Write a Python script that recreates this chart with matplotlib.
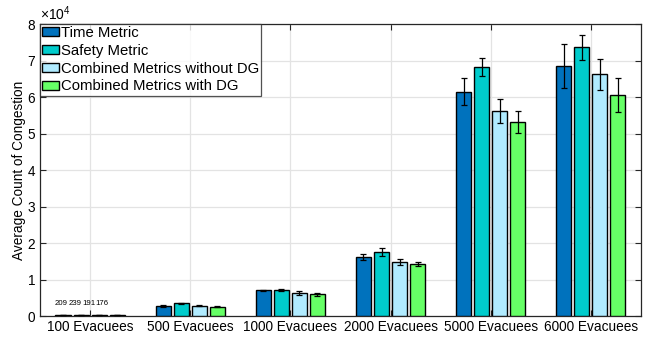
import numpy as np
import matplotlib
matplotlib.use("Agg")
import matplotlib.pyplot as plt
from matplotlib.ticker import ScalarFormatter

plt.rcParams["font.family"] = ["Liberation Sans", "DejaVu Sans"]
plt.rcParams["mathtext.fontset"] = "custom"
plt.rcParams["mathtext.rm"] = "Liberation Sans"
plt.rcParams["mathtext.it"] = "Liberation Sans"

groups = ["100 Evacuees", "500 Evacuees", "1000 Evacuees",
          "2000 Evacuees", "5000 Evacuees", "6000 Evacuees"]
series = ["Time Metric", "Safety Metric",
          "Combined Metrics without DG", "Combined Metrics with DG"]

time_metric = [209, 2800, 7000, 16100, 61500, 68600]
safety_metric = [239, 3500, 7100, 17500, 68200, 73600]
combined_no_dg = [191, 2800, 6300, 14800, 56200, 66200]
combined_dg = [176, 2500, 6000, 14200, 53200, 60600]

time_err = [15, 200, 250, 800, 3800, 6000]
safety_err = [15, 200, 200, 1000, 2500, 3500]
combined_no_dg_err = [15, 150, 500, 700, 3200, 4200]
combined_dg_err = [15, 150, 400, 500, 3100, 4700]

values = [time_metric, safety_metric, combined_no_dg, combined_dg]
errors = [time_err, safety_err, combined_no_dg_err, combined_dg_err]
colors = ["#0072BD", "#00CCCC", "#B0EBFF", "#66FF66"]

fig = plt.figure(figsize=(6.52, 3.39), dpi=100)
ax = fig.add_axes([0.0613, 0.0678, 0.9217, 0.8614])

x = np.arange(1, len(groups) + 1)
offsets = [-0.27, -0.09, 0.09, 0.27]
width = 0.15
handles = []
for vals, errs, col, off, name in zip(values, errors, colors, offsets, series):
    h = ax.bar(x + off, vals, width, color=col, edgecolor="black",
               linewidth=1.0, label=name, zorder=3)
    ax.errorbar(x + off, vals, yerr=errs, fmt="none", ecolor="black",
                elinewidth=0.9, capsize=2, capthick=0.9, zorder=4)
    handles.append(h)

# value labels above the smallest group
label_x = [0.71, 0.85, 0.985, 1.12]
for lx, vals in zip(label_x, values):
    ax.text(lx, 3500, str(vals[0]), ha="center", va="center",
            fontsize=5.6, zorder=5)

ax.set_xlim(0.5, 6.5)
ax.set_ylim(0, 80000)
ax.set_xticks(x)
ax.set_xticklabels(groups, fontsize=9.8)
ax.set_yticks(np.arange(0, 80001, 10000))

fmt = ScalarFormatter(useMathText=True)
fmt.set_powerlimits((4, 4))
ax.yaxis.set_major_formatter(fmt)
ax.yaxis.get_offset_text().set_fontsize(10)

ax.tick_params(axis="both", direction="in", labelsize=9.8, length=4,
               width=0.8, color="#262626", top=True, right=True, pad=3)
ax.grid(True, color="#E3E3E3", linewidth=0.9, zorder=0)
ax.set_axisbelow(True)
for s in ax.spines.values():
    s.set_color("#262626")
    s.set_linewidth(0.9)

ax.set_ylabel("Average Count of Congestion", fontsize=9.8, labelpad=0.5)

leg = ax.legend(handles=handles, loc="upper left", fontsize=10.7,
                frameon=True, fancybox=False, borderaxespad=0,
                handlelength=1.15, handleheight=0.55, handletextpad=0.1,
                labelspacing=0.25, borderpad=0.15)
leg.get_frame().set_edgecolor("#262626")
leg.get_frame().set_linewidth(0.9)

fig.savefig("out.png", dpi=100)
